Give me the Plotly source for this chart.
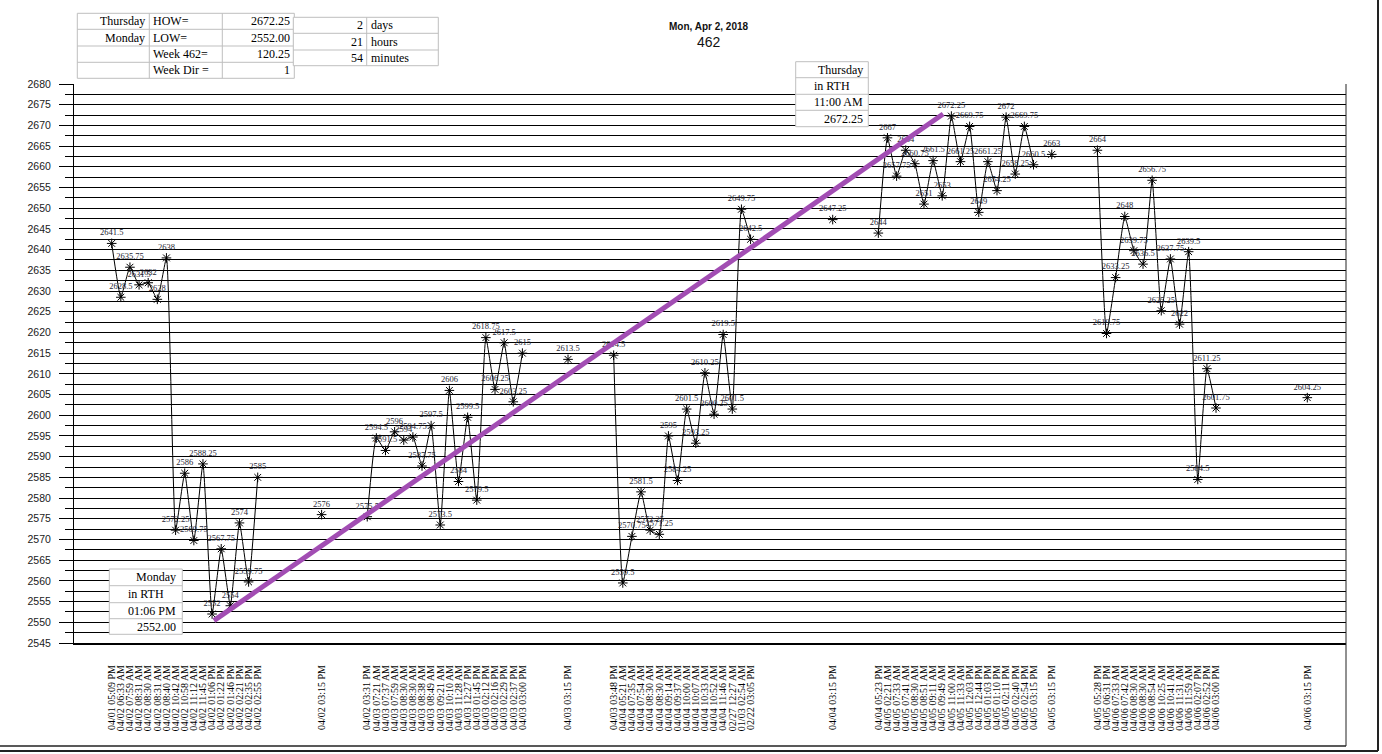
import plotly.graph_objects as go

# ---------------- data ----------------
g1_labels = ["04/01 05:09 PM", "04/02 06:33 AM", "04/02 07:59 AM", "04/02 08:31 AM", "04/02 08:30 AM",
             "04/02 08:31 AM", "04/02 08:40 AM", "04/02 10:42 AM", "04/02 10:58 AM", "04/02 11:12 AM",
             "04/02 11:45 AM", "04/02 01:06 PM", "04/02 01:22 PM", "04/02 01:46 PM", "04/02 02:21 PM",
             "04/02 02:35 PM", "04/02 02:55 PM"]
g1_values = [2641.5, 2628.5, 2635.75, 2631.5, 2632, 2628, 2638, 2572.25, 2586, 2569.75,
             2588.25, 2552, 2567.75, 2554, 2574, 2559.75, 2585]

g2_labels = ["04/02 03:31 PM", "04/03 07:21 AM", "04/03 07:37 AM", "04/03 07:59 AM", "04/03 08:30 AM",
             "04/03 08:30 AM", "04/03 08:38 AM", "04/03 08:49 AM", "04/03 09:21 AM", "04/03 10:10 AM",
             "04/03 11:28 AM", "04/03 12:27 PM", "04/03 01:45 PM", "04/03 02:12 PM", "04/03 02:16 PM",
             "04/03 02:29 PM", "04/03 02:37 PM", "04/03 03:00 PM"]
g2_values = [2575.5, 2594.5, 2591.5, 2596, 2594, 2594.75, 2587.75, 2597.5, 2573.5, 2606,
             2584, 2599.5, 2579.5, 2618.75, 2606.25, 2617.5, 2603.25, 2615]

g3_labels = ["04/03 03:48 PM", "04/04 05:21 AM", "04/04 07:35 AM", "04/04 07:54 AM", "04/04 08:30 AM",
             "04/04 08:30 AM", "04/04 09:14 AM", "04/04 09:37 AM", "04/04 10:00 AM", "04/04 10:07 AM",
             "04/04 10:33 AM", "04/04 10:52 AM", "04/04 11:46 AM", "02/27 12:27 AM", "01/03 02:54 AM",
             "02/22 03:05 PM"]
g3_values = [2614.5, 2559.5, 2570.75, 2581.5, 2572.25, 2571.25, 2595, 2584.25, 2601.5, 2593.25,
             2610.25, 2600.25, 2619.5, 2601.5, 2649.75, 2642.5]

g4_labels = ["04/04 05:23 PM", "04/05 02:21 AM", "04/05 07:33 AM", "04/05 07:41 AM", "04/05 08:30 AM",
             "04/05 08:51 AM", "04/05 09:11 AM", "04/05 09:49 AM", "04/05 11:00 AM", "04/05 11:33 AM",
             "04/05 12:03 PM", "04/05 12:44 PM", "04/05 01:03 PM", "04/05 01:10 PM", "04/05 02:11 PM",
             "04/05 02:40 PM", "04/05 02:54 PM", "04/05 03:15 PM"]
g4_values = [2644, 2667, 2657.75, 2664, 2660.75, 2651, 2661.5, 2653, 2672.25, 2661.25,
             2669.75, 2649, 2661.25, 2654.25, 2672, 2658.25, 2669.75, 2660.5]

g5_labels = ["04/05 05:28 PM", "04/05 06:31 PM", "04/06 07:33 AM", "04/06 07:42 AM", "04/06 08:30 AM",
             "04/06 08:30 AM", "04/06 08:54 AM", "04/06 10:25 AM", "04/06 10:41 AM", "04/06 11:31 AM",
             "04/06 11:59 AM", "04/06 02:07 PM", "04/06 02:52 PM", "04/06 03:00 PM"]
g5_values = [2664, 2619.75, 2633.25, 2648, 2639.75, 2636.5, 2656.75, 2625.25, 2637.75, 2622,
             2639.5, 2584.5, 2611.25, 2601.75]

close_labels = ["04/02 03:15 PM", "04/03 03:15 PM", "04/04 03:15 PM", "04/05 03:15 PM", "04/06 03:15 PM"]
close_values = [2576, 2613.5, 2647.25, 2663, 2604.25]

# empty category slots on the axis: (before close, after close) for each session
gap_before_close = [6, 4, 8, 1, 9]
gap_after_close = [4, 4, 4, 4, 0]

HOW = 2672.25
LOW = 2552.00
week_range = 120.25
week_dir = 1

# ---------------- build category sequence ----------------
groups = [(g1_labels, g1_values), (g2_labels, g2_values), (g3_labels, g3_values),
          (g4_labels, g4_values), (g5_labels, g5_values)]
cats, vals = [], []
for i, (lab, v) in enumerate(groups):
    cats += lab
    vals += v
    cats += [""] * gap_before_close[i]
    vals += [None] * gap_before_close[i]
    cats.append(close_labels[i])
    vals.append(close_values[i])
    cats += [""] * gap_after_close[i]
    vals += [None] * gap_after_close[i]

xs = list(range(len(cats)))
texts = ["" if v is None else f"{v:g}" for v in vals]

low_idx = vals.index(LOW)
high_idx = vals.index(HOW)

# ---------------- figure ----------------
W, H = 1382, 754
L, R, T, B = 74, 1346, 84, 643


def px(x):
    return (x - L) / (R - L)


def py(y):
    return (B - y) / (B - T)


fig = go.Figure()
fig.add_trace(go.Scatter(
    x=xs, y=vals, mode="lines+markers+text", text=texts,
    textposition="top center",
    textfont=dict(family="Liberation Serif", size=8.5, color="#262633"),
    line=dict(color="black", width=1, shape="spline", smoothing=0.4),
    marker=dict(symbol="asterisk-open", size=8, color="black",
                line=dict(color="black", width=1)),
    connectgaps=False, cliponaxis=False, showlegend=False, hoverinfo="x+y",
))

# weekly LOW -> HOW direction line
fig.add_trace(go.Scatter(
    x=[low_idx + 0.2, high_idx - 0.9], y=[LOW - 1.6, HOW + 0.5], mode="lines",
    line=dict(color="#A24DB3", width=5), showlegend=False, hoverinfo="skip",
))

tickvals = [i for i, c in enumerate(cats) if c]
ticktext = [c for c in cats if c]

shapes = []
annotations = []
GRAY = "#BFBFBF"
SERIF = "Liberation Serif"


def table(xedges, yedges, fill=None):
    if fill:
        shapes.append(dict(type="rect", xref="paper", yref="paper",
                           x0=px(xedges[0]), x1=px(xedges[-1]), y0=py(yedges[0]), y1=py(yedges[-1]),
                           fillcolor=fill, line=dict(width=0), layer="above"))
    for xe in xedges:
        shapes.append(dict(type="line", xref="paper", yref="paper", x0=px(xe), x1=px(xe),
                           y0=py(yedges[0]), y1=py(yedges[-1]), line=dict(color=GRAY, width=1),
                           layer="above"))
    for ye in yedges:
        shapes.append(dict(type="line", xref="paper", yref="paper", x0=px(xedges[0]), x1=px(xedges[-1]),
                           y0=py(ye), y1=py(ye), line=dict(color=GRAY, width=1), layer="above"))


def txt(x, y, s, anchor, size=12, family=SERIF, bold=False, color="black"):
    annotations.append(dict(xref="paper", yref="paper", x=px(x), y=py(y), text=f"<b>{s}</b>" if bold else s,
                            showarrow=False, xanchor=anchor, yanchor="middle",
                            font=dict(family=family, size=size, color=color)))


# top-left summary table
t1x = [77.3, 149.3, 222.3, 294.3]
t1y = [13.3, 29.3, 46, 62.3, 78.3]
table(t1x, t1y, fill="white")
rows1 = [("Thursday", "HOW=", f"{HOW:.2f}"), ("Monday", "LOW=", f"{LOW:.2f}"),
         ("", "Week 462=", f"{week_range:.2f}"), ("", "Week Dir =", f"{week_dir}")]
for k, (a, b, c) in enumerate(rows1):
    yc = (t1y[k] + t1y[k + 1]) / 2
    if a:
        txt(t1x[1] - 2, yc, a, "right")
    txt(t1x[1] + 2, yc, b, "left")
    txt(t1x[3] - 2, yc, c, "right")

# duration table
t2x = [293.3, 366.7, 438.3]
t2y = [17.3, 33.3, 50, 65.7]
table(t2x, t2y, fill="white")
for k, (a, b) in enumerate([("2", "days"), ("21", "hours"), ("54", "minutes")]):
    yc = (t2y[k] + t2y[k + 1]) / 2
    txt(t2x[1] - 2, yc, a, "right")
    txt(t2x[1] + 2, yc, b, "left")

# Monday low box
mx = [109.3, 182.3]
my = [569, 585.7, 602.7, 618.7, 634.3]
table(mx, my, fill="white")
mrows = [("Monday", "right"), ("in RTH", "left"), ("01:06 PM", "right"), (f"{LOW:.2f}", "right")]
for k, (s, a) in enumerate(mrows):
    yc = (my[k] + my[k + 1]) / 2
    txt(mx[1] - 4 if a == "right" else mx[0] + 17, yc, s, a)

# Thursday high box
hx = [795.7, 868.3]
hy = [61.7, 77.7, 94.3, 110.3, 126.7]
table(hx, hy, fill="white")
hrows = [("Thursday", "right"), ("in RTH", "left"), ("11:00 AM", "right"), (f"{HOW:.2f}", "right")]
for k, (s, a) in enumerate(hrows):
    yc = (hy[k] + hy[k + 1]) / 2
    txt(hx[1] - 3 if a == "right" else hx[0] + 16, yc, s, a)

# title
txt(709, 26.5, "Mon, Apr 2, 2018", "center", size=10, family="Liberation Sans", bold=True, color="#111")
txt(709, 41.5, "462", "center", size=14, family="Liberation Sans", color="#111")

# frame lines
for (x0, y0, x1, y1, w) in [(R, T, R, 746, 1), (0, 746, R, 746, 1.5),
                             (1378, 0, 1378, 751, 2), (0, 751, 1378, 751, 2)]:
    shapes.append(dict(type="line", xref="paper", yref="paper", x0=px(x0), x1=px(x1),
                       y0=py(y0), y1=py(y1), line=dict(color="#222", width=w), layer="above"))

fig.update_layout(
    width=W, height=H, paper_bgcolor="white", plot_bgcolor="white",
    margin=dict(l=L, r=W - R, t=T, b=H - B, autoexpand=False),
    shapes=shapes, annotations=annotations, showlegend=False,
    xaxis=dict(range=[-4.13, 135.24], tickmode="array", tickvals=tickvals, ticktext=ticktext,
               tickangle=-90, ticks="", showgrid=False, zeroline=False,
               showline=True, linecolor="black", linewidth=2, ticklabelstandoff=16,
               tickfont=dict(family=SERIF, size=10, color="black")),
    yaxis=dict(range=[2545, 2680], dtick=5, tick0=2545, ticks="outside", ticklen=14, tickcolor="black",
               showgrid=True, gridcolor="black", gridwidth=1, zeroline=False,
               showline=True, linecolor="black", linewidth=1, ticklabelstandoff=6,
               tickfont=dict(family="Liberation Sans", size=10.5, color="#1a1a1a"),
               minor=dict(dtick=2.5, tick0=2545, ticks="outside", ticklen=8, tickcolor="black",
                          showgrid=True, gridcolor="black", gridwidth=1)),
)

fig.write_html("out.html", config={"displayModeBar": False},
               post_script="document.body.style.margin='0';document.body.style.overflow='hidden';")
